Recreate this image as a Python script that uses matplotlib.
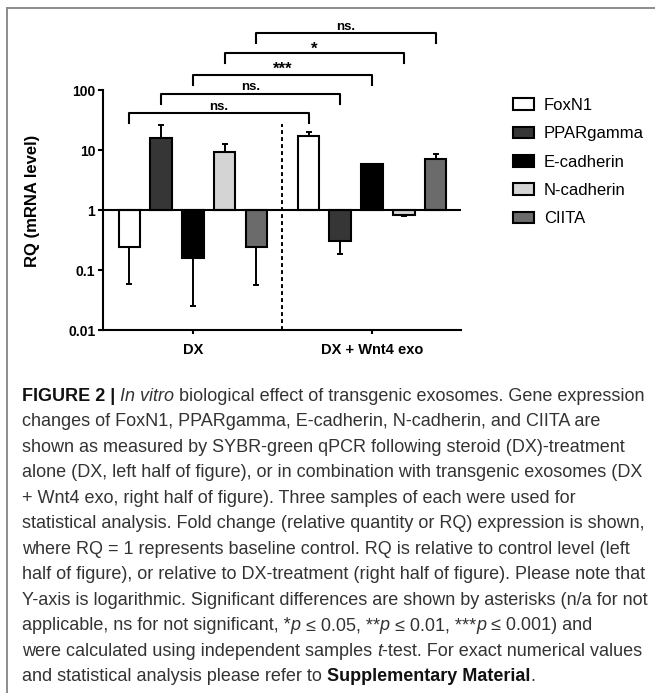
# -*- coding: utf-8 -*-
# RQ of gene expression, DX vs DX + Wnt4 exo, with figure caption

import numpy as np
import matplotlib
matplotlib.use("Agg")
import matplotlib.pyplot as plt
from matplotlib.lines import Line2D
from matplotlib.ticker import NullLocator
from matplotlib.font_manager import FontProperties

plt.rcParams['font.family'] = ['Liberation Sans', 'DejaVu Sans']

W, H = 655, 693  # figure size in pixels

# ---- data ----
genes = ["FoxN1", "PPARgamma", "E-cadherin", "N-cadherin", "CIITA"]
groups = ["DX", "DX + Wnt4 exo"]
colors = ["#ffffff", "#363636", "#000000", "#d4d4d4", "#6b6b6b"]

rq_dx = [0.245, 15.7, 0.156, 9.2, 0.24]
rq_dx_err = [0.058, 26.1, 0.025, 12.6, 0.056]      # end point of error bar
rq_wnt = [16.8, 0.31, 5.8, 0.826, 7.0]
rq_wnt_err = [20.2, 0.185, 5.8, 0.79, 8.6]

yticks = [0.01, 0.1, 1, 10, 100]
ytick_labels = ["0.01", "0.1", "1", "10", "100"]

sig_labels = ["ns.", "ns.", "***", "*", "ns."]   # DX gene i vs Wnt4 gene i

# ---- figure ----
fig = plt.figure(figsize=(W / 100, H / 100), dpi=100)
ax = fig.add_axes([102.7 / W, 1 - 330 / H, 358.3 / W, 240 / H])

x_dx = np.arange(len(genes))
x_wnt = np.arange(len(genes)) + 5.64
bw = 0.68

for i, g in enumerate(genes):
    xs = [x_dx[i], x_wnt[i]]
    vals = np.array([rq_dx[i], rq_wnt[i]])
    ends = np.array([rq_dx_err[i], rq_wnt_err[i]])
    ax.bar(xs, vals - 1, bottom=1, width=bw, color=colors[i],
           edgecolor="black", linewidth=1.5, label=g, zorder=3)
    # one-sided error bars, pointing away from 1
    lo = np.where(vals < 1, vals - ends, 0)
    up = np.where(vals >= 1, ends - vals, 0)
    ax.errorbar(xs, vals, yerr=[lo, up], fmt="none", ecolor="black",
                elinewidth=1.4, capsize=2, capthick=1.4, zorder=2)

ax.set_yscale("log")
ax.set_ylim(0.01, 100)
ax.set_xlim(-0.84, 10.44)
ax.yaxis.set_minor_locator(NullLocator())
ax.set_yticks(yticks, ytick_labels, fontsize=10, fontweight="bold")
ax.set_xticks([x_dx.mean(), x_wnt.mean()], groups, fontsize=10.5, fontweight="bold")
ax.tick_params(axis="y", length=3.8, width=1.5, pad=1.5)
ax.tick_params(axis="x", length=3, width=1.5, pad=6.5)

for s in ["top", "right"]:
    ax.spines[s].set_visible(False)
for s in ["left", "bottom"]:
    ax.spines[s].set_linewidth(1.5)

ax.axhline(1, color="black", lw=1.5, zorder=4)
ax.plot([4.8, 4.8], [0.01, 27], color="black", lw=1.4,
        ls=(0, (2, 1.6)), zorder=1)

ax.set_ylabel("RQ (mRNA level)", fontsize=12, fontweight="bold")
ax.yaxis.label.set_va("center")
ax.yaxis.set_label_coords(-0.196, 0.54)

# significance brackets (y in pixels from top of image)
trans = ax.get_xaxis_transform()
bracket_top = [113.3, 94.3, 75, 52.7, 33.3]
bracket_txt = [106.5, 87.5, 69, 49, 26.8]
for i, lab in enumerate(sig_labels):
    yt = (330 - bracket_top[i]) / 240
    yl = (330 - bracket_top[i] - 10) / 240
    ax.plot([x_dx[i], x_dx[i], x_wnt[i], x_wnt[i]], [yl, yt, yt, yl],
            color="black", lw=1.5, transform=trans, clip_on=False)
    fs = 9.5 if lab.startswith("ns") else 12
    ax.text((x_dx[i] + x_wnt[i]) / 2, (330 - bracket_txt[i]) / 240, lab,
            transform=trans, ha="center", va="center", fontsize=fs,
            fontweight="bold")

ax.legend(loc="upper left", bbox_to_anchor=(513 / W, 1 - 98 / H),
          bbox_transform=fig.transFigure, frameon=False, fontsize=12,
          borderpad=0, borderaxespad=0, handlelength=1.26, handleheight=0.72,
          handletextpad=0.6, labelspacing=0.8)

# frame of the figure panel
fc = "#8c8c8c"
fig.add_artist(Line2D([7 / W, 1], [1 - 8 / H] * 2, transform=fig.transFigure, color=fc, lw=1.4))
fig.add_artist(Line2D([7 / W] * 2, [0, 1 - 8 / H], transform=fig.transFigure, color=fc, lw=1.4))

# ---- caption ----
N, I, B = "normal", "italic", "bold"
caption = [
    [("FIGURE 2 | ", B), ("In vitro", I), (" biological effect of transgenic exosomes. Gene expression", N)],
    [("changes of FoxN1, PPARgamma, E-cadherin, N-cadherin, and CIITA are", N)],
    [("shown as measured by SYBR-green qPCR following steroid (DX)-treatment", N)],
    [("alone (DX, left half of figure), or in combination with transgenic exosomes (DX", N)],
    [("+ Wnt4 exo, right half of figure). Three samples of each were used for", N)],
    [("statistical analysis. Fold change (relative quantity or RQ) expression is shown,", N)],
    [("where RQ = 1 represents baseline control. RQ is relative to control level (left", N)],
    [("half of figure), or relative to DX-treatment (right half of figure). Please note that", N)],
    [("Y-axis is logarithmic. Significant differences are shown by asterisks (n/a for not", N)],
    [("applicable, ns for not significant, *", N), ("p", I), (" ≤ 0.05, **", N), ("p", I),
     (" ≤ 0.01, ***", N), ("p", I), (" ≤ 0.001) and", N)],
    [("were calculated using independent samples ", N), ("t", I), ("-test. For exact numerical values", N)],
    [("and statistical analysis please refer to ", N), ("Supplementary Material", B), (".", N)],
]

renderer = fig.canvas.get_renderer()


def props(style, size):
    return FontProperties(family=['Liberation Sans', 'DejaVu Sans'], size=size,
                          style="italic" if style == I else "normal",
                          weight="bold" if style == B else "normal")


def seg_width(s, fp):
    # pad with 'I' so leading / trailing spaces are counted
    w1 = renderer.get_text_width_height_descent("I" + s + "I", fp, False)[0]
    w0 = renderer.get_text_width_height_descent("II", fp, False)[0]
    return w1 - w0


# fit size so that the first line spans the panel width
w12 = sum(seg_width(s, props(st, 12)) for s, st in caption[0])
csize = 12 * 621 / w12

for k, line in enumerate(caption):
    x = 22
    y = 401 + k * 25.45
    for s, st in line:
        fp = props(st, csize)
        col = "#111111" if st == B else "#333333"
        fig.text(x / W, 1 - y / H, s, fontproperties=fp, color=col,
                 ha="left", va="baseline")
        x += seg_width(s, fp)

fig.savefig("out.png", dpi=100)
